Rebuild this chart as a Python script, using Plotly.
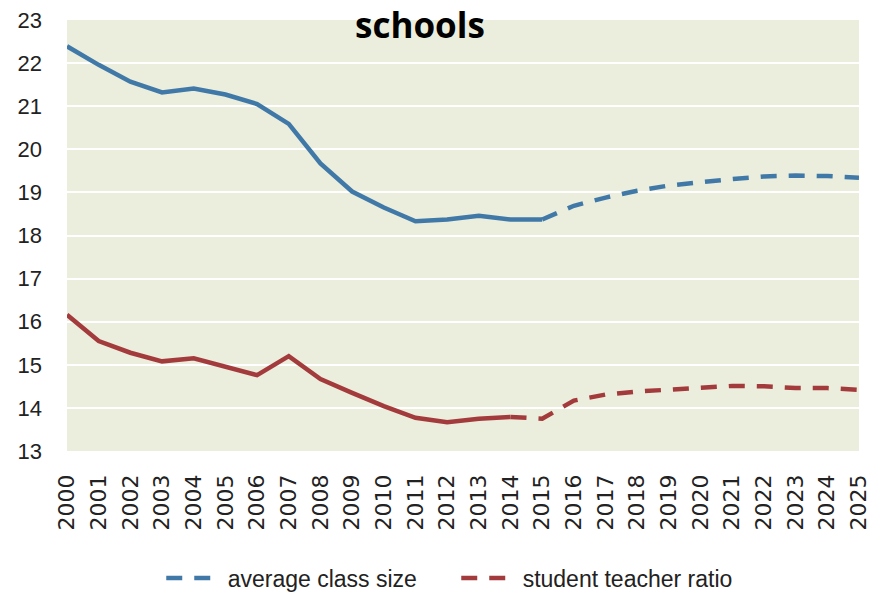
import plotly.graph_objects as go

years = list(range(2000, 2026))
year_labels = [str(y) for y in years]

# average class size: actual (2000-2015) and projection (2015-2025)
class_size_actual_years = list(range(2000, 2016))
class_size_actual = [22.39, 21.96, 21.57, 21.32, 21.41, 21.27, 21.05, 20.59,
                     19.67, 19.02, 18.65, 18.33, 18.37, 18.46, 18.37, 18.37]
class_size_proj_years = list(range(2015, 2026))
class_size_proj = [18.37, 18.69, 18.88, 19.04, 19.16, 19.24, 19.31, 19.37,
                   19.39, 19.38, 19.34]

# student teacher ratio: actual (2000-2014) and projection (2014-2025)
ratio_actual_years = list(range(2000, 2015))
ratio_actual = [16.16, 15.55, 15.28, 15.08, 15.15, 14.96, 14.76, 15.20,
                14.67, 14.35, 14.04, 13.77, 13.67, 13.75, 13.79]
ratio_proj_years = list(range(2014, 2026))
ratio_proj = [13.79, 13.75, 14.17, 14.31, 14.38, 14.43, 14.47, 14.51,
              14.50, 14.46, 14.46, 14.42]

blue = "#4079a8"
red = "#a33b3d"
dash = "16px,12px"
lw = 4.5
label_font = "Liberation Sans, Arial, sans-serif"

fig = go.Figure()
fig.add_trace(go.Scatter(x=class_size_actual_years, y=class_size_actual, mode="lines",
                         line=dict(color=blue, width=lw), showlegend=False, hoverinfo="skip"))
fig.add_trace(go.Scatter(x=ratio_actual_years, y=ratio_actual, mode="lines",
                         line=dict(color=red, width=lw), showlegend=False, hoverinfo="skip"))
fig.add_trace(go.Scatter(x=class_size_proj_years, y=class_size_proj, mode="lines",
                         name="\u00a0average class size",
                         line=dict(color=blue, width=lw, dash=dash)))
fig.add_trace(go.Scatter(x=ratio_proj_years, y=ratio_proj, mode="lines",
                         name="\u00a0student teacher ratio",
                         line=dict(color=red, width=lw, dash=dash)))

fig.add_annotation(text="<b>schools</b>", xref="paper", yref="paper",
                   x=0.446, y=1.0464, xanchor="center", yanchor="top",
                   showarrow=False, borderpad=0,
                   font=dict(family="Open Sans", size=35, color="#000000"))

fig.update_layout(
    width=881, height=593,
    margin=dict(l=67, r=22, t=20, b=142, autoexpand=False),
    paper_bgcolor="#ffffff",
    plot_bgcolor="#ebeedc",
    showlegend=True,
    legend=dict(orientation="h", x=0.119, xanchor="left", y=-0.295, yanchor="middle",
                font=dict(family=label_font, size=23, color="#222222"),
                itemwidth=50, entrywidth=230, bgcolor="rgba(0,0,0,0)"),
)
fig.update_xaxes(range=[2000, 2025], tickmode="array", tickvals=years, ticktext=year_labels,
                 tickangle=-90, showgrid=False, zeroline=False, showline=False,
                 ticks="", ticklabelstandoff=18,
                 tickfont=dict(family="DejaVu Sans", size=22, color="#222222"))
fig.update_yaxes(range=[13, 23], dtick=1, tick0=13, showgrid=True, gridcolor="#ffffff",
                 gridwidth=2, zeroline=False, showline=False, ticks="",
                 ticklabelstandoff=24,
                 tickfont=dict(family=label_font, size=22, color="#222222"))

fig.write_html("out.html")
